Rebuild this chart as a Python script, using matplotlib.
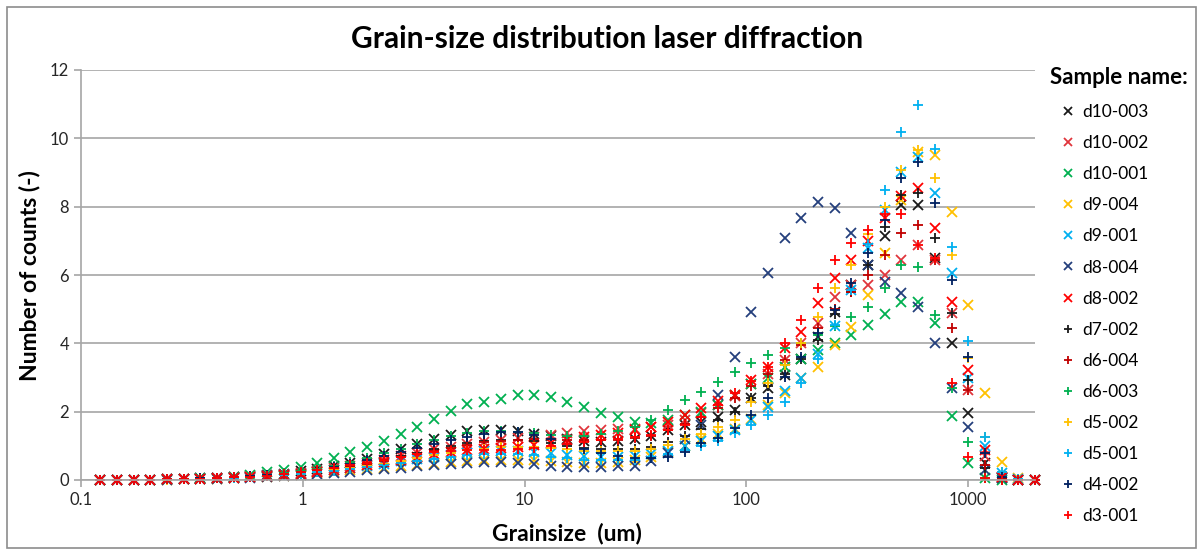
import matplotlib.pyplot as plt
from matplotlib.patches import Rectangle
from matplotlib.ticker import NullLocator

plt.rcParams['font.family'] = ['Lato', 'DejaVu Sans']

# grain-size classes (um), quarter-phi steps
grainsize = [0.122, 0.145, 0.173, 0.205, 0.244, 0.29, 0.345, 0.41, 0.488, 0.58, 0.69, 0.82, 0.977,
             1.16, 1.38, 1.64, 1.95, 2.32, 2.76, 3.28, 3.91, 4.65, 5.52, 6.57, 7.81,
             9.29, 11.05, 13.1, 15.6, 18.6, 22.1, 26.3, 31.3, 37.2, 44.2, 52.6,
             62.5, 74.3, 88.4, 105, 125, 149, 177, 210, 250, 297, 354, 420, 500, 595, 707, 841, 1000, 1189, 1414, 1682, 2000]

d10_003 = [0, 0, 0, 0.01, 0.02, 0.03, 0.05, 0.07, 0.09, 0.12, 0.15, 0.19, 0.25,
           0.31, 0.4, 0.5, 0.62, 0.76, 0.92, 1.06, 1.2, 1.32, 1.42, 1.47, 1.46,
           1.42, 1.36, 1.28, 1.2, 1.14, 1.12, 1.14, 1.2, 1.3, 1.45, 1.6,
           1.7, 1.85, 2.05, 2.4, 2.69, 3.07, 3.54, 4.2, 4.93, 5.7, 6.29, 7.15, 8.05, 8.05, 6.5, 4.0, 1.96, 0.5, 0.06, 0, 0]
d10_002 = [0, 0, 0, 0.01, 0.02, 0.03, 0.04, 0.06, 0.08, 0.1, 0.13, 0.16, 0.21,
           0.27, 0.34, 0.42, 0.5, 0.6, 0.7, 0.8, 0.9, 0.98, 1.05, 1.12, 1.18,
           1.22, 1.26, 1.32, 1.38, 1.44, 1.46, 1.48, 1.5, 1.55, 1.62, 1.75,
           1.95, 2.2, 2.45, 2.8, 3.1, 3.5, 4.0, 4.6, 5.37, 5.7, 5.7, 6.0, 6.44, 6.88, 6.44, 4.9, 2.63, 0.7, 0.08, 0, 0]
d10_001 = [0, 0, 0, 0.01, 0.02, 0.03, 0.05, 0.07, 0.1, 0.15, 0.22, 0.29, 0.38,
           0.49, 0.64, 0.82, 0.97, 1.15, 1.35, 1.56, 1.8, 2.03, 2.21, 2.29, 2.37,
           2.49, 2.49, 2.42, 2.27, 2.13, 1.97, 1.83, 1.69, 1.67, 1.76, 1.9,
           1.98, 2.2, 2.5, 2.8, 3.0, 3.3, 3.55, 3.8, 4.0, 4.24, 4.54, 4.86, 5.2, 5.2, 4.6, 1.87, 0.51, 0.05, 0, 0, 0]
d9_004 = [0, 0, 0, 0.01, 0.01, 0.02, 0.03, 0.04, 0.06, 0.08, 0.1, 0.13, 0.16,
          0.2, 0.24, 0.28, 0.32, 0.36, 0.4, 0.44, 0.48, 0.52, 0.55, 0.58, 0.6,
          0.6, 0.58, 0.55, 0.52, 0.5, 0.5, 0.52, 0.58, 0.68, 0.82, 1.0,
          1.2, 1.35, 1.5, 1.8, 2.2, 2.54, 2.98, 3.3, 3.95, 4.49, 5.41, 6.64, 8.2, 9.61, 9.51, 7.85, 5.12, 2.54, 0.54, 0.05, 0]
d9_001 = [0, 0, 0, 0.01, 0.02, 0.03, 0.04, 0.05, 0.07, 0.09, 0.12, 0.15, 0.19,
          0.24, 0.29, 0.35, 0.41, 0.48, 0.55, 0.62, 0.68, 0.74, 0.8, 0.84, 0.86,
          0.85, 0.82, 0.78, 0.74, 0.7, 0.68, 0.68, 0.7, 0.76, 0.86, 1.0,
          1.15, 1.3, 1.45, 1.75, 2.14, 2.6, 2.98, 3.7, 4.5, 5.55, 6.8, 7.9, 9.02, 9.46, 8.39, 6.05, 3.0, 1.0, 0.2, 0.02, 0]
d8_004 = [0, 0, 0, 0.01, 0.01, 0.02, 0.03, 0.04, 0.05, 0.07, 0.09, 0.11, 0.14,
          0.17, 0.2, 0.24, 0.28, 0.32, 0.36, 0.4, 0.44, 0.48, 0.5, 0.52, 0.52,
          0.5, 0.46, 0.42, 0.38, 0.37, 0.38, 0.4, 0.42, 0.55, 0.8, 1.2,
          1.6, 2.49, 3.6, 4.93, 6.07, 7.09, 7.68, 8.15, 7.95, 7.22, 6.29, 5.8, 5.47, 5.06, 4.0, 2.69, 1.55, 0.29, 0.05, 0, 0]
d8_002 = [0, 0, 0, 0.01, 0.02, 0.03, 0.04, 0.05, 0.07, 0.09, 0.12, 0.15, 0.19,
          0.24, 0.3, 0.36, 0.43, 0.52, 0.6, 0.68, 0.76, 0.82, 0.88, 0.92, 0.95,
          0.98, 1.02, 1.08, 1.16, 1.25, 1.32, 1.38, 1.45, 1.55, 1.7, 1.9,
          2.1, 2.3, 2.49, 2.93, 3.32, 3.86, 4.34, 5.17, 5.9, 6.44, 7.0, 7.66, 8.3, 8.54, 7.37, 5.22, 3.22, 0.88, 0.1, 0, 0]
d7_002 = [0, 0, 0, 0.01, 0.02, 0.03, 0.04, 0.06, 0.08, 0.1, 0.13, 0.17, 0.21,
          0.27, 0.34, 0.42, 0.5, 0.6, 0.7, 0.8, 0.9, 1.0, 1.08, 1.14, 1.18,
          1.18, 1.14, 1.08, 1.0, 0.94, 0.9, 0.9, 0.92, 0.98, 1.1, 1.3,
          1.5, 1.75, 2.0, 2.4, 2.75, 3.1, 3.55, 4.1, 4.85, 5.5, 6.3, 7.4, 8.34, 8.39, 7.08, 4.88, 2.93, 0.35, 0.03, 0, 0]
d6_004 = [0, 0, 0, 0.01, 0.02, 0.03, 0.04, 0.06, 0.08, 0.1, 0.13, 0.16, 0.2,
          0.26, 0.32, 0.39, 0.47, 0.56, 0.66, 0.76, 0.86, 0.95, 1.03, 1.1, 1.15,
          1.18, 1.2, 1.2, 1.18, 1.17, 1.17, 1.18, 1.22, 1.3, 1.45, 1.65,
          1.85, 2.1, 2.4, 2.75, 3.1, 3.5, 3.95, 4.45, 5.0, 5.5, 6.0, 6.6, 7.22, 7.46, 6.44, 4.44, 2.63, 0.45, 0.05, 0, 0]
d6_003 = [0, 0, 0, 0.01, 0.02, 0.03, 0.05, 0.07, 0.09, 0.12, 0.16, 0.2, 0.26,
          0.33, 0.42, 0.52, 0.64, 0.78, 0.92, 1.05, 1.18, 1.3, 1.38, 1.42, 1.42,
          1.4, 1.37, 1.33, 1.3, 1.3, 1.35, 1.42, 1.55, 1.76, 2.04, 2.33,
          2.58, 2.88, 3.17, 3.42, 3.66, 3.85, 4.0, 4.25, 4.5, 4.78, 5.07, 5.62, 6.29, 6.23, 4.83, 2.7, 1.12, 0.06, 0, 0, 0]
d5_002 = [0, 0, 0, 0.01, 0.01, 0.02, 0.03, 0.05, 0.07, 0.09, 0.11, 0.14, 0.18,
          0.23, 0.28, 0.34, 0.41, 0.48, 0.56, 0.64, 0.72, 0.8, 0.87, 0.92, 0.96,
          0.98, 0.97, 0.94, 0.9, 0.86, 0.84, 0.84, 0.86, 0.92, 1.02, 1.2,
          1.35, 1.55, 1.76, 2.29, 2.83, 3.37, 4.0, 4.78, 5.62, 6.29, 7.2, 8.0, 9.07, 9.66, 8.83, 6.58, 3.57, 1.27, 0.24, 0.02, 0]
d5_001 = [0, 0, 0, 0.01, 0.02, 0.03, 0.04, 0.05, 0.07, 0.09, 0.11, 0.14, 0.18,
          0.22, 0.27, 0.32, 0.38, 0.44, 0.5, 0.56, 0.62, 0.67, 0.72, 0.75, 0.76,
          0.75, 0.72, 0.68, 0.64, 0.6, 0.58, 0.58, 0.6, 0.66, 0.76, 0.88,
          1.0, 1.15, 1.37, 1.6, 1.9, 2.29, 2.83, 3.54, 4.54, 5.56, 6.9, 8.49, 10.19, 10.97, 9.7, 6.83, 4.08, 1.27, 0.24, 0.02, 0]
d4_002 = [0, 0, 0, 0.01, 0.02, 0.03, 0.05, 0.07, 0.09, 0.12, 0.15, 0.19, 0.24,
          0.3, 0.38, 0.47, 0.58, 0.7, 0.82, 0.94, 1.06, 1.17, 1.26, 1.34, 1.4,
          1.4, 1.32, 1.2, 1.05, 0.92, 0.8, 0.7, 0.65, 0.64, 0.67, 0.83,
          1.08, 1.23, 1.52, 1.9, 2.39, 3.02, 3.6, 4.3, 4.97, 5.76, 6.63, 7.61, 8.83, 9.32, 8.1, 5.85, 3.61, 0.78, 0.1, 0, 0]
d3_001 = [0, 0, 0, 0.01, 0.02, 0.03, 0.04, 0.06, 0.08, 0.1, 0.13, 0.17, 0.22,
          0.28, 0.35, 0.43, 0.51, 0.6, 0.68, 0.76, 0.82, 0.86, 0.88, 0.88, 0.88,
          0.9, 0.94, 1.0, 1.06, 1.12, 1.16, 1.2, 1.25, 1.32, 1.45, 1.6,
          1.85, 2.2, 2.55, 2.9, 3.3, 4.0, 4.68, 5.62, 6.44, 6.93, 7.32, 7.8, 7.8, 6.88, 6.5, 2.83, 0.68, 0.06, 0, 0, 0]

samples = ['d10-003', 'd10-002', 'd10-001', 'd9-004', 'd9-001', 'd8-004', 'd8-002',
           'd7-002', 'd6-004', 'd6-003', 'd5-002', 'd5-001', 'd4-002', 'd3-001']
counts = [d10_003, d10_002, d10_001, d9_004, d9_001, d8_004, d8_002,
          d7_002, d6_004, d6_003, d5_002, d5_001, d4_002, d3_001]
colors = ['#1a1a1a', '#E0353C', '#00B050', '#FFC000', '#00B0F0', '#243F7C', '#FF0000',
          '#1a1a1a', '#C00000', '#00B050', '#FFC000', '#00B0F0', '#002060', '#FF0000']
markers = ['x'] * 7 + ['+'] * 7

W, H = 1203, 551
fig = plt.figure(figsize=(W / 100, H / 100), dpi=100)
fig.patches.append(Rectangle((7 / W, 3 / H), 1189 / W, 541 / H, transform=fig.transFigure,
                             fill=False, edgecolor='#8c8c8c', lw=1.2))

ax = fig.add_axes([81 / W, 1 - 480 / H, (1035 - 81) / W, 410 / H])
for name, vals, c, m in zip(samples, counts, colors, markers):
    ax.plot(grainsize, vals, linestyle='none', marker=m, color=c, ms=7.5, mew=1.3,
            label=name, clip_on=False)

ax.set_xscale('log')
ax.set_xlim(0.1, 2000)
ax.set_ylim(0, 12)
ax.set_yticks(range(0, 13, 2))
ax.set_xticks([0.1, 1, 10, 100, 1000])
ax.set_xticklabels(['0.1', '1', '10', '100', '1000'])
ax.xaxis.set_minor_locator(NullLocator())
ax.grid(axis='y', color='#a6a6a6', lw=1.2)
ax.set_axisbelow(True)
for s in ['top', 'right']:
    ax.spines[s].set_visible(False)
for s in ['left', 'bottom']:
    ax.spines[s].set_color('#a6a6a6')
    ax.spines[s].set_linewidth(1.2)
ax.tick_params(colors='#a6a6a6', labelcolor='#262626', labelsize=12, length=5, width=1.2)

fig.text(607 / W, 1 - 39 / H, 'Grain-size distribution laser diffraction', ha='center', va='center',
         fontsize=21.5, fontweight='bold')
fig.text(567 / W, 1 - 534 / H, 'Grainsize  (um)', ha='center', va='center', fontsize=16.5, fontweight='bold')
fig.text(30 / W, 1 - 276 / H, 'Number of counts (-)', ha='center', va='center', rotation=90,
         fontsize=16.5, fontweight='bold')
fig.text(1050 / W, 1 - 78 / H, 'Sample name:', ha='left', va='center', fontsize=16, fontweight='bold')

fig.legend(loc='upper left', bbox_to_anchor=(1060 / W, 1 - 104 / H), frameon=False, fontsize=12.5,
           labelspacing=0.87, handlelength=0.9, handletextpad=0.4, borderpad=0, borderaxespad=0,
           markerscale=0.8)

fig.savefig('out.png', dpi=100)
